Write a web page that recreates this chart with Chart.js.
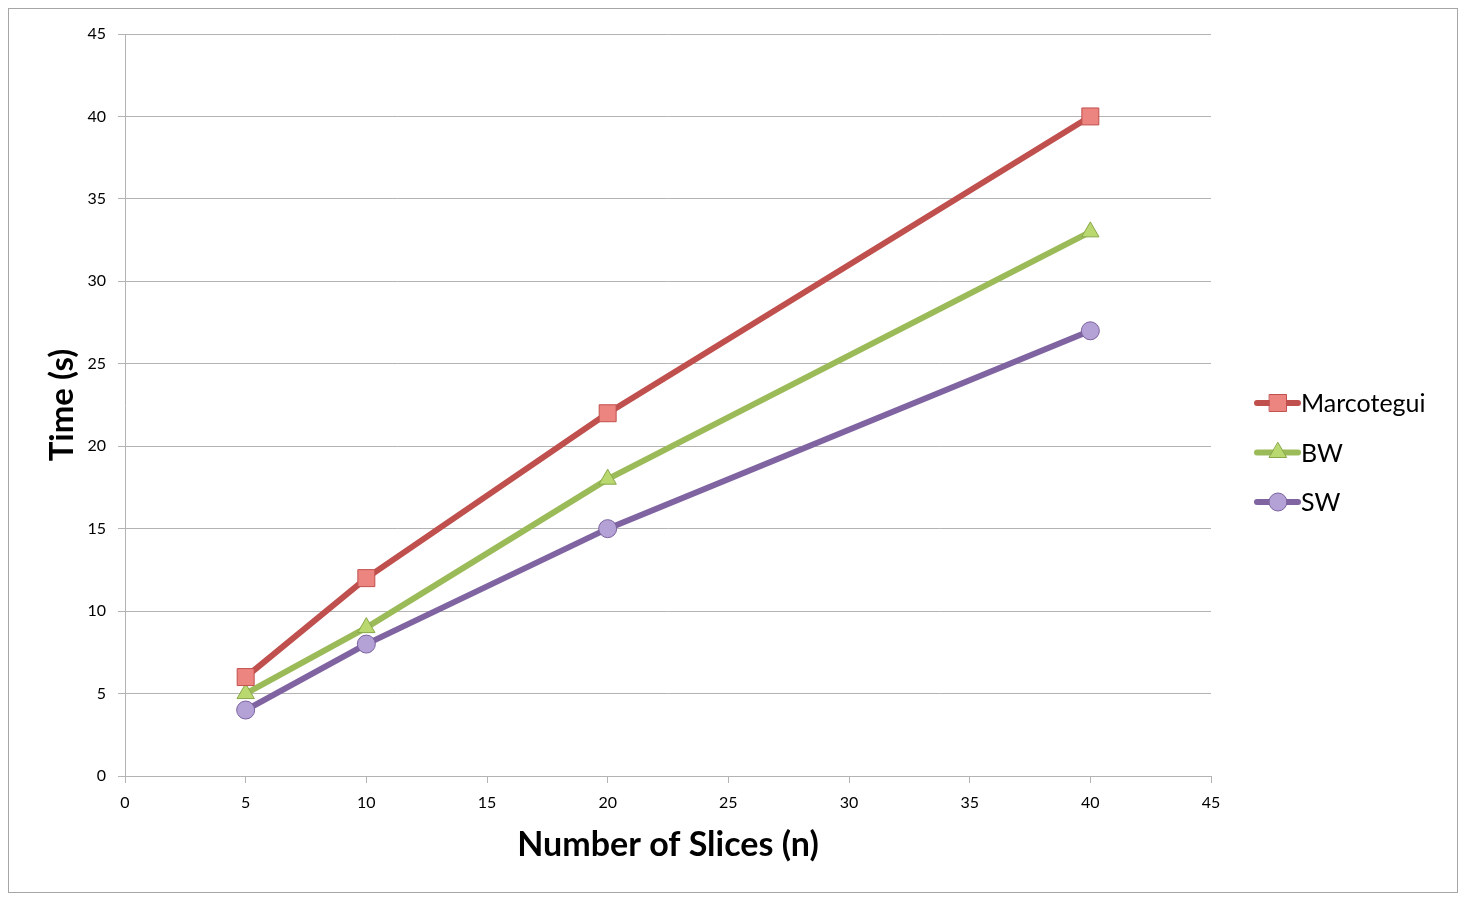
<!DOCTYPE html>
<html>
<head>
<meta charset="utf-8">
<title>Time vs Number of Slices</title>
<script src="https://cdn.jsdelivr.net/npm/chart.js@4"></script>
<style>
    html, body { margin: 0; padding: 0; background: #fff; }
    #wrap { width: 1466px; height: 900px; position: relative; }
</style>
</head>
<body>
<div id="wrap"><canvas id="timeChart"></canvas></div>
<script>
// Chart data
const sliceCounts = [5, 10, 20, 40];
const marcoteguiTimes = [6, 12, 22, 40];
const bwTimes = [5, 9, 18, 33];
const swTimes = [4, 8, 15, 27];
const seriesNames = ['Marcotegui', 'BW', 'SW'];

const FONT = 'Lato, "Open Sans", sans-serif';
const GRID = '#b3b3b3';

function toPoints(values) {
    return sliceCounts.map((x, i) => ({ x: x, y: values[i] }));
}

// Outer frame around whole chart
const framePlugin = {
    id: 'frame',
    beforeDraw(chart) {
        const ctx = chart.ctx;
        ctx.save();
        ctx.fillStyle = '#fff';
        ctx.fillRect(0, 0, chart.width, chart.height);
        ctx.strokeStyle = '#a6a6a6';
        ctx.lineWidth = 1;
        ctx.strokeRect(8.5, 8.5, chart.width - 17, chart.height - 16);
        ctx.restore();
    }
};

// Legend with line + marker swatch, like the spreadsheet original
const sideLegend = {
    id: 'sideLegend',
    afterDraw(chart) {
        const ctx = chart.ctx;
        const area = chart.chartArea;
        const x0 = area.right + 46;
        const startY = 403;
        const gap = 49.5;
        ctx.save();
        chart.data.datasets.forEach((ds, i) => {
            const y = startY + i * gap;
            ctx.strokeStyle = ds.borderColor;
            ctx.lineWidth = 6;
            ctx.lineCap = 'round';
            ctx.beginPath();
            ctx.moveTo(x0, y);
            ctx.lineTo(x0 + 41, y);
            ctx.stroke();
            ctx.fillStyle = ds.pointBackgroundColor;
            ctx.strokeStyle = ds.pointBorderColor;
            ctx.lineWidth = 1;
            Chart.helpers.drawPoint(ctx, {
                pointStyle: ds.pointStyle,
                rotation: 0,
                radius: ds.pointRadius,
                borderWidth: 1
            }, x0 + 21, y);
            ctx.fillStyle = '#000';
            ctx.font = '25px ' + FONT;
            ctx.textBaseline = 'middle';
            ctx.textAlign = 'left';
            ctx.fillText(ds.label, x0 + 44, y + 1);
        });
        ctx.restore();
    }
};

document.addEventListener('DOMContentLoaded', () => {
    const ctx = document.getElementById('timeChart').getContext('2d');
    new Chart(ctx, {
        type: 'scatter',
        data: {
            datasets: [{
                label: seriesNames[0],
                data: toPoints(marcoteguiTimes),
                showLine: true,
                borderColor: '#c0504d',
                borderWidth: 6,
                pointStyle: 'rect',
                pointRadius: 12,
                pointBackgroundColor: '#ec8580',
                pointBorderColor: '#c0504d',
                pointBorderWidth: 1
            }, {
                label: seriesNames[1],
                data: toPoints(bwTimes),
                showLine: true,
                borderColor: '#9bbb59',
                borderWidth: 6,
                pointStyle: 'triangle',
                pointRadius: 10,
                pointBackgroundColor: '#b9d870',
                pointBorderColor: '#8aa84a',
                pointBorderWidth: 1
            }, {
                label: seriesNames[2],
                data: toPoints(swTimes),
                showLine: true,
                borderColor: '#8064a2',
                borderWidth: 6,
                pointStyle: 'circle',
                pointRadius: 9,
                pointBackgroundColor: '#b4a2d6',
                pointBorderColor: '#7b62a0',
                pointBorderWidth: 1
            }]
        },
        options: {
            responsive: true,
            maintainAspectRatio: false,
            animation: false,
            layout: {
                padding: { left: 10, top: 34, right: 255, bottom: 10 }
            },
            plugins: {
                legend: { display: false },
                tooltip: { enabled: false }
            },
            scales: {
                x: {
                    type: 'linear',
                    min: 0,
                    max: 45,
                    afterFit(scale) { scale.height = 114; },
                    grid: {
                        display: true,
                        drawOnChartArea: false,
                        drawTicks: true,
                        tickLength: 7,
                        tickColor: GRID
                    },
                    border: { color: GRID, width: 1 },
                    ticks: {
                        stepSize: 5,
                        color: '#000',
                        padding: 10,
                        maxRotation: 0,
                        font: { family: FONT, size: 16 }
                    },
                    title: {
                        display: true,
                        text: 'Number of Slices (n)',
                        color: '#000',
                        padding: 25,
                        font: { family: FONT, size: 34, weight: 'bold' }
                    }
                },
                y: {
                    type: 'linear',
                    min: 0,
                    max: 45,
                    afterFit(scale) { scale.width = 115; },
                    grid: {
                        color: GRID,
                        lineWidth: 1,
                        drawTicks: true,
                        tickLength: 7,
                        tickColor: GRID
                    },
                    border: { color: GRID, width: 1 },
                    ticks: {
                        stepSize: 5,
                        color: '#000',
                        padding: 12,
                        font: { family: FONT, size: 16 }
                    },
                    title: {
                        display: true,
                        text: 'Time (s)',
                        color: '#000',
                        padding: 33,
                        font: { family: FONT, size: 33, weight: 'bold' }
                    }
                }
            }
        },
        plugins: [framePlugin, sideLegend]
    });
});
</script>
</body>
</html>
